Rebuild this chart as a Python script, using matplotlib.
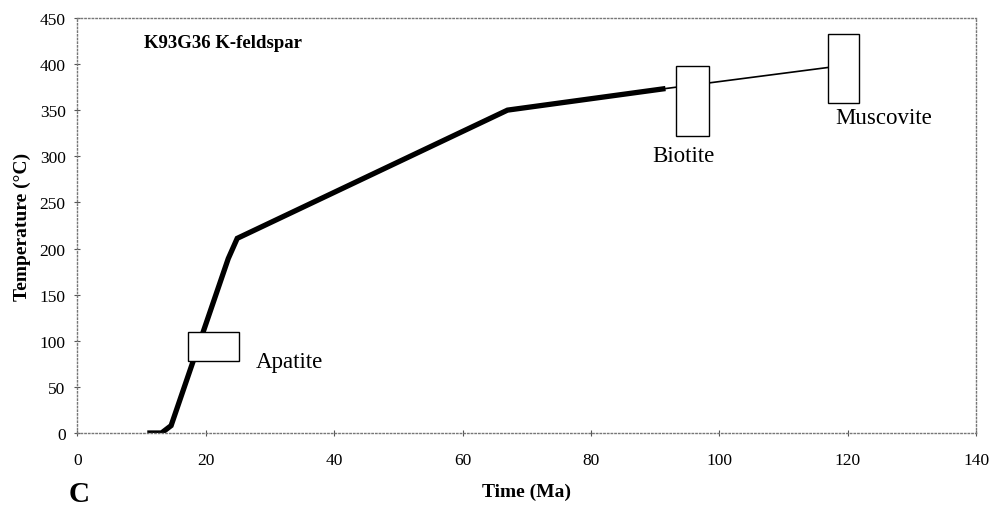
import matplotlib.pyplot as plt
from matplotlib.patches import Rectangle

# thermal history path (Ma, deg C)
path_time = [11.3, 13.1, 14.6, 23.5, 24.9, 67.0, 91.2]
path_temp = [0, 0, 8, 189, 211, 350, 373]

# thin extrapolated segment through biotite to muscovite
ext_time = [91.2, 120.0]
ext_temp = [373, 399]

# mineral closure boxes: name, t_min, t_max, T_min, T_max
minerals = ['Apatite', 'Biotite', 'Muscovite']
box_t0 = [17.2, 93.3, 116.9]
box_t1 = [25.2, 98.4, 121.7]
box_T0 = [78, 322, 358]
box_T1 = [109, 398, 433]
label_xy = [(27.8, 77), (89.6, 301), (118.0, 342)]

plt.rcParams['font.family'] = ['Liberation Serif', 'DejaVu Serif']

fig = plt.figure(figsize=(9.92, 5.10), dpi=100)
ax = fig.add_axes([0.078, 0.149, 0.906, 0.814])

ax.plot(path_time, path_temp, color='black', lw=3.8, solid_joinstyle='miter', zorder=2)
ax.plot(ext_time, ext_temp, color='black', lw=1.2, zorder=2)

for name, t0, t1, T0, T1, xy in zip(minerals, box_t0, box_t1, box_T0, box_T1, label_xy):
    ax.add_patch(Rectangle((t0, T0), t1 - t0, T1 - T0, facecolor='white',
                           edgecolor='black', lw=1.0, zorder=3))
    ax.text(xy[0], xy[1], name, fontsize=16.5, va='center', ha='left')

ax.text(10.4, 423, 'K93G36 K-feldspar', fontsize=13.5, fontweight='bold', va='center')

ax.set_xlim(0, 140)
ax.set_ylim(0, 450)
ax.set_xticks(range(0, 141, 20))
ax.set_yticks(range(0, 451, 50))
ax.tick_params(direction='inout', length=5, width=0.8, labelsize=12.5, color='#555555')
ax.tick_params(axis='x', pad=11)
ax.tick_params(axis='y', pad=6)

for s in ax.spines.values():
    s.set_linestyle(':')
    s.set_color('#777777')
    s.set_linewidth(1.0)

ax.set_xlabel('Time (Ma)', fontsize=14, fontweight='bold', labelpad=11)
ax.set_ylabel('Temperature (\u00b0C)', fontsize=14, fontweight='bold', labelpad=6)

fig.text(79 / 992, 1 - 495 / 510, 'C', fontsize=21, fontweight='bold', ha='center', va='center')

fig.savefig('out.png', dpi=100)
